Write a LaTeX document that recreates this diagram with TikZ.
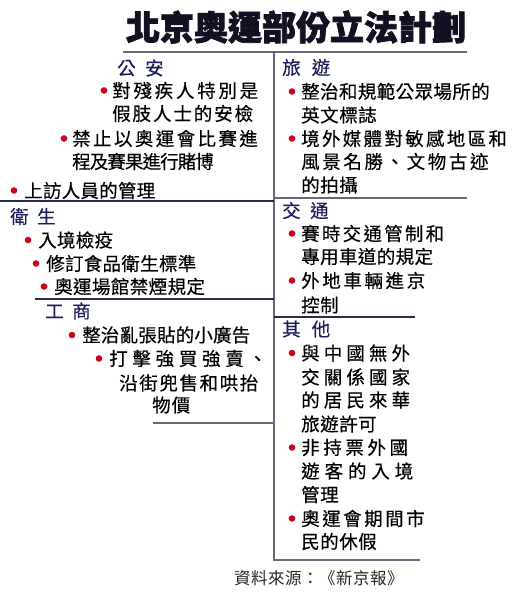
\documentclass[tikz,border=0pt]{standalone}
\usepackage{fontspec}
\setmainfont{Noto Sans CJK TC}[FakeBold=0.35]
\newfontfamily\titlefont{Noto Sans CJK TC}[BoldFeatures={FakeBold=2.2}]
\newfontfamily\srcfont{Noto Sans CJK TC}
\definecolor{linegray}{HTML}{666677}
\definecolor{linenavy}{HTML}{2A2A50}
\definecolor{headblue}{HTML}{1C1C5A}
\definecolor{bulletred}{HTML}{D0021B}
\definecolor{titleink}{HTML}{111122}
\ExplSyntaxOn
\NewDocumentCommand\trk{mm}{\tl_map_inline:nn{#2}{\makebox[#1][l]{##1}}}
\ExplSyntaxOff
\tikzset{
  body/.style={anchor=west, inner sep=0pt, font=\fontsize{18.5}{20}\selectfont, text=black},
  head/.style={body, text=headblue},
  dot/.style={circle, fill=bulletred, inner sep=0pt, minimum size=6.6pt},
  rule/.style={draw=linegray, line width=1.8pt},
  navyrule/.style={draw=linenavy, line width=1.6pt},
}
\begin{document}
\begin{tikzpicture}[x=1pt,y=-1pt]
\useasboundingbox (0,0) rectangle (520,596);
\fill[white] (0,0) rectangle (520,596);
% title
\node[anchor=center, inner sep=0pt, text=titleink, font=\titlefont\fontsize{34}{36}\selectfont\bfseries] (title) at (296,27) {北京奧運部份立法計劃};
% frame lines
\coordinate (tl) at (123,52);
\coordinate (tr) at (467,52);
\coordinate (vt) at (274,52);
\coordinate (vb) at (274,560);
\coordinate (br) at (420,560);
\draw[rule] (tl) -- (tr);
\draw[rule] (vt) -- (vb) -- (br);
\coordinate (l1a) at (0,201); \coordinate (l1b) at (274,201);
\draw[navyrule] (l1a) -- (l1b);
\coordinate (l2a) at (35,299); \coordinate (l2b) at (274,299);
\draw[navyrule] (l2a) -- (l2b);
\coordinate (l3a) at (153,423); \coordinate (l3b) at (274,423);
\draw[rule] (l3a) -- (l3b);
\coordinate (r1a) at (274,198); \coordinate (r1b) at (467,198);
\draw[rule] (r1a) -- (r1b);
\coordinate (r2a) at (274,317); \coordinate (r2b) at (415,317);
\draw[navyrule] (r2a) -- (r2b);

% ---- left: 公安
\node[head] (hga) at (117,68) {\trk{28pt}{公安}};
\node[dot] (ga1d) at (104,90.5) {};
\node[body] (ga1a) at (112,90.5) {\trk{21.25pt}{對殘疾人特別是}};
\node[body] (ga1b) at (112,113.5) {\trk{20.4pt}{假肢人士的安檢}};
\node[dot] (ga2d) at (64,138.5) {};
\node[body] (ga2a) at (72,138.5) {\trk{20.9pt}{禁止以奧運會比賽進}};
\node[body] (ga2b) at (72,161.5) {\trk{17.6pt}{程及賽果進行賭博}};
\node[dot] (ga3d) at (14,190.5) {};
\node[body] (ga3a) at (24,190.5) {\trk{18.75pt}{上訪人員的管理}};
% ---- left: 衛生
\node[head] (hws) at (10,216.5) {\trk{27pt}{衛生}};
\node[dot] (ws1d) at (28,240) {};
\node[body] (ws1a) at (38,240) {\trk{18.8pt}{入境檢疫}};
\node[dot] (ws2d) at (36,263.5) {};
\node[body] (ws2a) at (46,263.5) {\trk{18.8pt}{修訂食品衛生標準}};
\node[dot] (ws3d) at (44,286.5) {};
\node[body] (ws3a) at (54,286.5) {\trk{18.9pt}{奧運場館禁煙規定}};
% ---- left: 工商
\node[head] (hgs) at (45,311) {\trk{27pt}{工商}};
\node[dot] (gs1d) at (72,335) {};
\node[body] (gs1a) at (82,335) {\trk{18.7pt}{整治亂張貼的小廣告}};
\node[dot] (gs2d) at (99,358.5) {};
\node[body] (gs2a) at (109,358.5) {\trk{23.2pt}{打擊強買強賣、}};
\node[body] (gs2b) at (119,383) {\trk{20.1pt}{沿街兜售和哄抬}};
\node[body] (gs2c) at (152,405) {\trk{19.5pt}{物價}};

% ---- right: 旅遊
\node[head] (hly) at (282,67.5) {\trk{29.5pt}{旅遊}};
\node[dot] (ly1d) at (292,91.5) {};
\node[body] (ly1a) at (301,91.5) {\trk{18.9pt}{整治和規範公眾場所的}};
\node[body] (ly1b) at (301,115) {\trk{19pt}{英文標誌}};
\node[dot] (ly2d) at (292,138.5) {};
\node[body] (ly2a) at (301,138.5) {\trk{20.8pt}{境外媒體對敏感地區和}};
\node[body] (ly2b) at (301,161.5) {\trk{21.1pt}{風景名勝、文物古迹}};
\node[body] (ly2c) at (301,185) {\trk{19pt}{的拍攝}};
% ---- right: 交通
\node[head] (hjt) at (282,210.5) {\trk{28pt}{交通}};
\node[dot] (jt1d) at (292,233.5) {};
\node[body] (jt1a) at (301,233.5) {\trk{20.75pt}{賽時交通管制和}};
\node[body] (jt1b) at (301,256.5) {\trk{18.9pt}{專用車道的規定}};
\node[dot] (jt2d) at (292,280.5) {};
\node[body] (jt2a) at (301,280.5) {\trk{21.1pt}{外地車輛進京}};
\node[body] (jt2b) at (301,305) {\trk{19pt}{控制}};
% ---- right: 其他
\node[head] (hqt) at (282,329) {\trk{29.5pt}{其他}};
\node[dot] (qt1d) at (292,353) {};
\node[body] (qt1a) at (301,353) {\trk{22.6pt}{與中國無外}};
\node[body] (qt1b) at (301,377) {\trk{22.6pt}{交關係國家}};
\node[body] (qt1c) at (301,400) {\trk{22.6pt}{的居民來華}};
\node[body] (qt1d) at (301,424) {\trk{19pt}{旅遊許可}};
\node[dot] (qt2d) at (292,447.5) {};
\node[body] (qt2a) at (301,447.5) {\trk{22.1pt}{非持票外國}};
\node[body] (qt2b) at (301,471) {\trk{23.4pt}{遊客的入境}};
\node[body] (qt2c) at (301,494.5) {\trk{19pt}{管理}};
\node[dot] (qt3d) at (292,518.5) {};
\node[body] (qt3a) at (301,518.5) {\trk{21pt}{奧運會期間市}};
\node[body] (qt3b) at (301,541.5) {\trk{19pt}{民的休假}};

% source
\node[anchor=west, inner sep=0pt, text=black!85, font=\srcfont\fontsize{16.5}{18}\selectfont] (src) at (234,578) {\trk{17pt}{資料來源：《新京報》}};
\end{tikzpicture}
\end{document}
